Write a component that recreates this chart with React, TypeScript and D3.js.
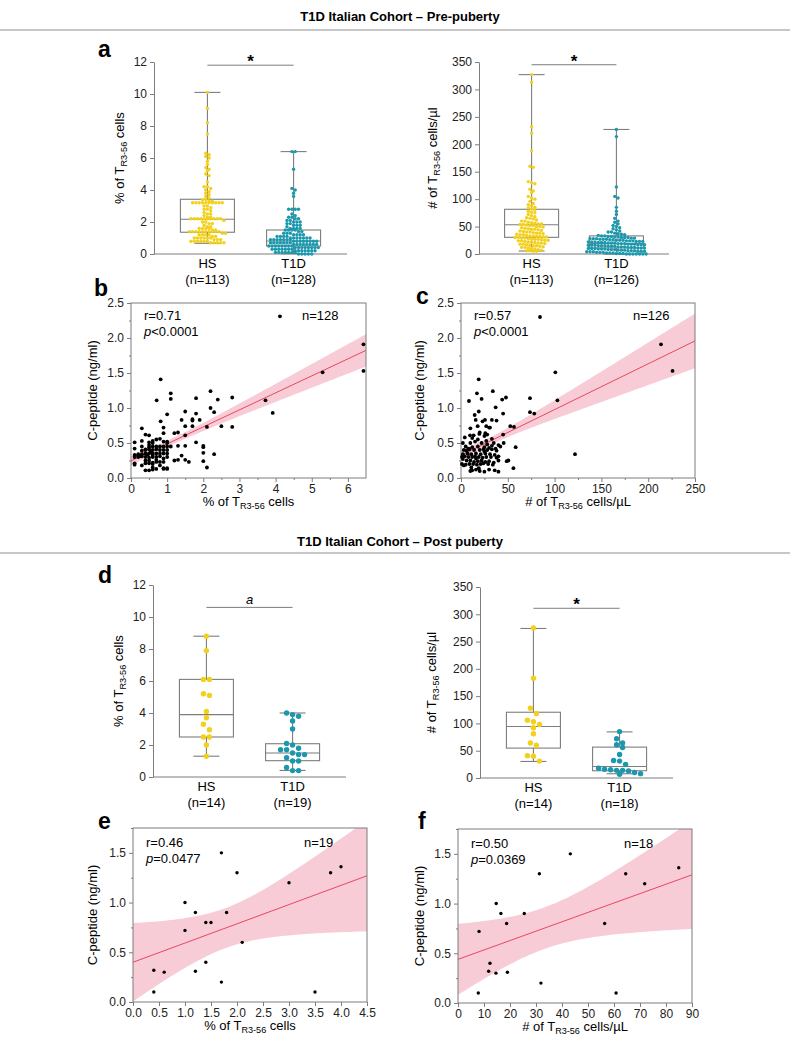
import React, { useEffect, useRef } from "react";
import * as d3 from "d3";

const FONT = "'Liberation Sans', Arial, Helvetica, sans-serif";
const GRAY = "#7d7d7d";
const YELLOW = "#f2d01c";
const TEAL = "#1b98ad";
const RED = "#e8485f";
const PINK = "#f7c3cf";

// categories
const groups = ["HS", "T1D"];
const preCounts = ["(n=113)", "(n=128)"];
const preAbsCounts = ["(n=113)", "(n=126)"];
const postCounts = ["(n=14)", "(n=19)"];
const postAbsCounts = ["(n=14)", "(n=18)"];

// pre-puberty, % of TR3-56 cells
const preHsPct = [
  10.1, 9.1, 8.2, 7.5, 6.3, 6.2, 6.1, 6.0, 5.8, 5.6, 5.4, 5.3, 5.2, 5.0, 4.9, 4.5, 4.2, 4.2, 4.1, 4.0, 3.9, 3.8, 3.7,
  3.6, 3.5, 3.4, 3.4, 3.3, 3.3, 3.2, 3.2, 3.2, 3.2, 3.2, 3.2, 3.2, 3.2, 3.2, 3.2,
  3.0, 3.0, 2.9, 2.8, 2.8, 2.7, 2.6, 2.5, 2.5, 2.4, 2.3, 2.3,
  2.2, 2.2, 2.2, 2.2, 2.2, 2.2, 2.2, 2.2, 2.2, 2.2,
  2.1, 2.0, 2.0, 1.9, 1.9, 1.8, 1.7, 1.7, 1.6, 1.6, 1.6, 1.6, 1.5, 1.5,
  1.4, 1.4, 1.4, 1.4, 1.4, 1.4, 1.4, 1.4, 1.4, 1.4,
  1.3, 1.3, 1.2, 1.2, 1.2, 1.2, 1.1, 1.1, 1.0, 1.0, 1.0, 1.0, 1.0, 1.0,
  0.9, 0.9, 0.9, 0.8, 0.8, 0.8, 0.8, 0.8, 0.8, 0.7, 0.7, 0.7, 0.7, 0.7,
];
const preT1dPct = [
  6.4, 6.4, 5.3, 4.1, 4.0, 3.8, 3.6, 2.8, 2.8, 2.8, 2.8, 2.5, 2.4, 2.3, 2.3, 2.2, 2.2, 2.1, 2.1, 2.0, 2.0, 2.0,
  1.9, 1.9, 1.8, 1.8, 1.8, 1.7, 1.6, 1.6, 1.6, 1.6, 1.5, 1.5, 1.5, 1.5, 1.4, 1.4, 1.3, 1.3, 1.3,
  1.2, 1.2, 1.2, 1.2, 1.1, 1.1, 1.1, 1.1,
  1.0, 1.0, 1.0, 1.0, 1.0, 1.0, 1.0,
  0.9, 0.9, 0.9, 0.9, 0.9, 0.9, 0.9,
  0.8, 0.8, 0.8, 0.8, 0.8, 0.8, 0.8, 0.8,
  0.7, 0.7, 0.7, 0.7, 0.7, 0.7, 0.7,
  0.6, 0.6, 0.6, 0.6, 0.6, 0.6, 0.6, 0.6,
  0.5, 0.5, 0.5, 0.5, 0.5, 0.5, 0.5, 0.5,
  0.4, 0.4, 0.4, 0.4, 0.4, 0.4, 0.4, 0.4,
  0.3, 0.3, 0.3, 0.3, 0.3, 0.3, 0.3,
  0.2, 0.2, 0.2, 0.2, 0.2, 0.2, 0.2,
  0.1, 0.1, 0.1, 0.1, 0.1, 0.1, 0.1,
  0.0, 0.0, 0.0, 0.0, 0.0,
];
// pre-puberty, # of TR3-56 cells/µl
const preHsAbs = [
  327, 313, 232, 220, 188, 160, 158, 132, 130, 128, 118, 115, 112, 105, 102, 100,
  96, 92, 90, 88, 85, 84, 82, 80, 78, 76, 75, 72, 70, 68, 66, 65, 64, 62, 60, 60,
  58, 57, 56, 55, 55, 54, 54, 53, 52, 52, 50, 50, 49, 48, 47, 46, 45, 45, 44, 43,
  42, 41, 40, 40, 39, 38, 38, 37, 36, 35, 35, 34, 33, 33, 32, 32, 31, 31, 30, 30,
  29, 29, 28, 28, 27, 27, 26, 25, 25, 24, 24, 23, 22, 22, 21, 20, 20, 19, 18, 18,
  17, 16, 15, 15, 14, 13, 12, 12, 11, 10, 9, 8, 7, 6, 6, 5, 5,
];
const preT1dAbs = [
  227, 214, 122, 105, 102, 85, 78, 72, 65, 60, 58, 55, 52, 50, 48, 46, 44, 42, 40, 40,
  38, 37, 36, 35, 34, 33, 33, 32, 32, 31, 31, 30, 30, 30, 29, 29, 28, 28, 28, 27,
  27, 27, 26, 26, 25, 25, 25, 24, 24, 24, 23, 23, 23, 22, 22, 22, 21, 21, 21, 20,
  20, 20, 19, 19, 19, 18, 18, 18, 17, 17, 17, 16, 16, 16, 15, 15, 15, 14, 14, 14,
  13, 13, 13, 12, 12, 12, 11, 11, 11, 10, 10, 10, 9, 9, 9, 8, 8, 8, 7, 7,
  7, 6, 6, 6, 5, 5, 5, 4, 4, 4, 3, 3, 3, 2, 2, 2, 1, 1, 1, 0, 0, 0, 0, 0, 0, 0,
];
// post-puberty
const postHsPct = [8.8, 7.9, 6.1, 6.1, 5.2, 5.1, 4.1, 3.7, 3.3, 2.95, 2.5, 2.5, 2.0, 1.3];
const postT1dPct = [4.0, 3.9, 3.8, 3.5, 3.0, 2.1, 2.0, 1.8, 1.7, 1.7, 1.5, 1.4, 1.4, 1.2, 1.0, 1.0, 0.6, 0.4, 0.4];
const postHsAbs = [275, 183, 128, 118, 106, 103, 98, 92, 81, 64, 60, 41, 40, 31];
const postT1dAbs = [85, 72, 64, 61, 56, 43, 32, 31, 25, 18, 16, 15, 14, 14, 13, 10, 8, 7];

// box statistics: [min, q1, median, q3, max]
const preHsPctBox = [0.67, 1.36, 2.17, 3.42, 10.1];
const preT1dPctBox = [0.02, 0.5, 0.81, 1.5, 6.4];
const preHsAbsBox = [5.5, 30.4, 53.4, 81.5, 327];
const preT1dAbsBox = [0, 11, 19, 33, 227];
const postHsPctBox = [1.3, 2.5, 3.9, 6.1, 8.8];
const postT1dPctBox = [0.41, 1.02, 1.5, 2.08, 4.0];
const postHsAbsBox = [30.3, 54.8, 94.3, 120.5, 274];
const postT1dAbsBox = [7.8, 13.3, 21.2, 56.6, 84.5];

// correlation panels: [x, C-peptide ng/ml]
const corrPrePct = [
  [4.12, 2.31], [6.43, 1.91], [6.43, 1.53], [5.3, 1.51], [3.72, 1.11], [3.92, 0.93],
  [0.82, 1.41], [0.71, 1.11], [1.1, 1.21], [1.1, 1.13], [1.0, 0.91], [0.82, 0.81], [0.9, 0.72], [0.9, 0.64],
  [2.2, 1.24], [2.4, 1.12], [1.8, 1.14], [2.8, 1.15], [2.2, 1.0], [2.3, 0.94], [1.5, 0.95], [1.8, 0.92], [1.4, 0.83], [1.7, 0.84],
  [1.7, 0.82], [1.9, 0.83], [1.5, 0.74], [1.7, 0.74], [2.1, 0.73], [2.5, 0.74], [2.8, 0.73], [0.3, 0.71], [1.2, 0.64], [1.3, 0.65],
  [1.5, 0.61], [1.8, 0.51], [2.0, 0.46], [2.0, 0.44], [2.0, 0.36], [2.0, 0.24], [2.1, 0.15], [2.3, 0.34], [1.3, 0.46], [1.5, 0.46],
  [1.4, 0.32], [1.2, 0.25], [1.3, 0.26], [1.5, 0.26], [1.6, 0.23], [1.0, 0.13], [0.9, 0.13],
  [0.1, 0.51], [0.1, 0.42], [0.1, 0.21], [0.1, 0.19], [0.1, 0.3], [0.2, 0.32], [0.25, 0.31], [0.3, 0.39], [0.3, 0.53], [0.4, 0.62],
  [0.5, 0.61], [0.4, 0.41], [0.5, 0.41], [0.6, 0.53], [0.5, 0.51], [0.5, 0.47],
  [0.6, 0.45], [0.7, 0.45], [0.8, 0.45], [0.9, 0.45], [1.0, 0.45], [1.1, 0.45], [0.5, 0.44],
  [0.4, 0.4], [0.6, 0.4], [0.7, 0.41], [0.8, 0.4], [0.9, 0.4], [1.0, 0.4], [0.55, 0.38],
  [0.1, 0.33], [0.2, 0.34], [0.3, 0.34], [0.4, 0.35], [0.5, 0.35], [0.6, 0.35], [0.7, 0.35], [0.8, 0.35], [0.9, 0.35], [1.0, 0.35],
  [0.45, 0.33], [0.6, 0.33], [0.4, 0.3], [0.5, 0.29], [0.7, 0.3], [0.6, 0.3],
  [0.4, 0.21], [0.5, 0.21], [0.6, 0.22], [0.7, 0.23], [0.8, 0.23], [0.9, 0.23], [0.6, 0.2],
  [0.4, 0.11], [0.5, 0.11], [0.6, 0.12], [0.7, 0.13], [0.9, 0.14], [1.0, 0.14],
  [0.6, 0.5], [1.0, 0.52], [1.0, 0.5], [0.7, 0.55],
  [0.2, 0.3], [0.3, 0.31], [0.8, 0.31], [0.9, 0.28], [1.0, 0.3], [0.4, 0.25], [0.5, 0.25], [0.7, 0.26], [0.8, 0.18], [0.3, 0.18],
  [0.6, 0.15], [0.9, 0.52], [0.8, 0.56], [0.3, 0.45],
];
const corrPreAbs = [
  [84.4, 2.3], [213.7, 1.91], [226, 1.53], [100.8, 1.51], [103, 1.11], [121.8, 0.34], [73.7, 1.14], [73.7, 0.94], [78.3, 0.92],
  [8.5, 1.1], [18.9, 1.41], [17, 1.21], [22, 1.13], [34, 1.24], [48, 1.15], [44, 1.12], [37, 1.01], [19, 0.95], [14.6, 0.9],
  [45, 0.92], [15.7, 0.83], [25.6, 0.83], [23, 0.81], [33, 0.83], [38, 0.82], [17.8, 0.74], [10, 0.71], [27, 0.74], [31, 0.72],
  [52.7, 0.74], [56.6, 0.73], [26, 0.64], [9.6, 0.61], [13.5, 0.61], [19.6, 0.63], [58.4, 0.44], [50.6, 0.25], [48.8, 0.24], [56, 0.14],
  [45.6, 0.5], [45, 0.62],
  [2, 0.5], [10, 0.5], [15, 0.52], [22, 0.5], [28, 0.48], [35, 0.5], [40, 0.47],
  [5, 0.45], [12, 0.44], [18, 0.45], [25, 0.44], [30, 0.43], [42, 0.45], [8, 0.42],
  [3, 0.4], [6, 0.39], [9, 0.41], [14, 0.4], [20, 0.4], [24, 0.41], [28, 0.4], [33, 0.41], [38, 0.39],
  [2, 0.34], [7, 0.35], [11, 0.34], [16, 0.35], [21, 0.34], [26, 0.35], [31, 0.34], [36, 0.33], [40, 0.31],
  [1, 0.3], [4, 0.31], [8, 0.3], [12, 0.3], [15, 0.31], [19, 0.3], [23, 0.29], [27, 0.3], [32, 0.3], [38, 0.29],
  [10, 0.25], [14, 0.23], [18, 0.24], [22, 0.25], [26, 0.23], [30, 0.24], [35, 0.22], [40, 0.25],
  [1, 0.2], [3, 0.18], [5, 0.19], [9, 0.2], [13, 0.2], [17, 0.19], [21, 0.2], [24, 0.21], [29, 0.2], [34, 0.19],
  [10, 0.1], [12, 0.11], [16, 0.12], [20, 0.1], [25, 0.09], [30, 0.12], [36, 0.11], [40, 0.09], [19, 0.14],
  [4, 0.58], [12, 0.57], [18, 0.55], [25, 0.6], [28, 0.62], [33, 0.56], [20, 0.65], [30, 0.72],
  [6, 0.25], [16, 0.28], [25, 0.38], [33, 0.46], [2, 0.27], [11, 0.15], [27, 0.53], [37, 0.42],
];
const corrPostPct = [
  [0.4, 0.1], [0.4, 0.32], [0.6, 0.3], [1.0, 1.0], [1.0, 0.72], [1.2, 0.9], [1.2, 0.31], [1.4, 0.8], [1.5, 0.8], [1.4, 0.4],
  [1.7, 1.5], [1.7, 0.2], [1.8, 0.9], [2.0, 1.3], [2.1, 0.6], [3.0, 1.2], [3.5, 0.1], [3.8, 1.3], [4.0, 1.36],
];
const corrPostAbs = [
  [7.8, 0.1], [8.1, 0.72], [12.3, 0.4], [11.8, 0.32], [14.7, 1.0], [14.6, 0.3], [16.5, 0.9], [18.7, 0.8], [19, 0.31],
  [25.5, 0.9], [31.3, 1.3], [31.9, 0.2], [43.2, 1.5], [56.4, 0.8], [60.8, 0.1], [64.5, 1.3], [71.8, 1.2], [84.9, 1.36],
];
const corrStats = [
  ["r=0.71", "<0.0001", "n=128"],
  ["r=0.57", "<0.0001", "n=126"],
  ["r=0.46", "=0.0477", "n=19"],
  ["r=0.50", "=0.0369", "n=18"],
];
// two-sided 95% t quantiles for n-2 df
const tCrit = [1.979, 1.979, 2.11, 2.12];

const subLabel = (sel: any, pre: string, sub: string, post: string, size = 13) => {
  sel.append("tspan").text(pre);
  sel.append("tspan").attr("font-size", size * 0.7).attr("dy", 3).text(sub);
  sel.append("tspan").attr("dy", -3).text(post);
};

// GraphPad-like column scatter: points in rows, each row centred
const columnDots = (values: number[], y: any, cx: number, step: number) => {
  const sorted = values.slice().sort((a, b) => b - a);
  const rows: number[][] = [];
  let start = -Infinity;
  sorted.forEach((v) => {
    const py = y(v);
    if (py - start >= step * 0.95 || rows.length === 0) {
      rows.push([]);
      start = py;
    }
    rows[rows.length - 1].push(py);
  });
  const out: { x: number; y: number }[] = [];
  rows.forEach((r) => r.forEach((py, i) => out.push({ x: cx + (i - (r.length - 1) / 2) * step, y: py })));
  return out;
};

const drawBoxPanel = (svg: any, p: any) => {
  const g = svg.append("g");
  const y = d3.scaleLinear().domain([0, p.yMax]).range([p.yBot, p.yTop]);
  const x = d3.scalePoint().domain(groups).range([p.x0, p.x1]).padding(0.62);

  const ax = g.append("g").attr("transform", `translate(${p.x0},0)`)
    .call(d3.axisLeft(y).tickValues(d3.range(0, p.yMax + 0.001, p.yStep)).tickSize(4).tickSizeOuter(0).tickPadding(3));
  ax.select(".domain").attr("stroke", GRAY);
  ax.selectAll(".tick line").attr("stroke", GRAY);
  ax.selectAll(".tick text").attr("font-family", FONT).attr("font-size", 12).attr("fill", "#222");

  g.append("line").attr("x1", p.x0).attr("x2", p.x1).attr("y1", p.yBot).attr("y2", p.yBot).attr("stroke", GRAY);

  const bw = 54;
  p.series.forEach((s: any, i: number) => {
    const cx = x(groups[i]) as number;
    const [mn, q1, md, q3, mx] = s.box;
    const bx = g.append("g").attr("stroke", GRAY).attr("stroke-width", 1.1).attr("fill", "none");
    bx.append("line").attr("x1", cx).attr("x2", cx).attr("y1", y(q3)).attr("y2", y(mx));
    bx.append("line").attr("x1", cx).attr("x2", cx).attr("y1", y(q1)).attr("y2", y(mn));
    [mn, mx].forEach((v) =>
      bx.append("line").attr("x1", cx - bw * 0.24).attr("x2", cx + bw * 0.24).attr("y1", y(v)).attr("y2", y(v)));
    bx.append("rect").attr("x", cx - bw / 2).attr("y", y(q3)).attr("width", bw).attr("height", y(q1) - y(q3));
    bx.append("line").attr("x1", cx - bw / 2).attr("x2", cx + bw / 2).attr("y1", y(md)).attr("y2", y(md));

    g.append("g").selectAll("circle")
      .data(columnDots(s.values, y, cx, p.step))
      .enter().append("circle")
      .attr("cx", (d: any) => d.x).attr("cy", (d: any) => d.y)
      .attr("r", p.r).attr("fill", s.color);

    g.append("text").attr("x", cx).attr("y", p.yBot + 14).attr("text-anchor", "middle")
      .attr("font-family", FONT).attr("font-size", 13).text(groups[i]);
    g.append("text").attr("x", cx).attr("y", p.yBot + 30).attr("text-anchor", "middle")
      .attr("font-family", FONT).attr("font-size", 13).text(p.counts[i]);
  });

  // significance bar
  const sy = y(p.sigV);
  g.append("line").attr("x1", x("HS")).attr("x2", x("T1D")).attr("y1", sy).attr("y2", sy).attr("stroke", GRAY);
  const st = g.append("text").attr("x", ((x("HS") as number) + (x("T1D") as number)) / 2).attr("text-anchor", "middle")
    .attr("font-family", FONT);
  if (p.sig === "*") st.attr("y", sy + 2).attr("font-size", 17).attr("font-weight", "bold").text("*");
  else st.attr("y", sy - 3).attr("font-size", 13).attr("font-style", "italic").text(p.sig);

  const lab = g.append("text")
    .attr("transform", `translate(${p.labelX},${(p.yTop + p.yBot) / 2}) rotate(-90)`)
    .attr("text-anchor", "middle").attr("font-family", FONT).attr("font-size", 13);
  subLabel(lab, p.label[0], "R3-56", p.label[1]);

  if (p.letter) {
    svg.append("text").attr("x", p.letter[1]).attr("y", p.letter[2]).attr("font-family", FONT)
      .attr("font-weight", "bold").attr("font-size", 23).text(p.letter[0]);
  }
};

const drawScatter = (svg: any, p: any, k: number) => {
  const pts: number[][] = p.data;
  const g = svg.append("g");
  const x = d3.scaleLinear().domain([0, p.xMax]).range([p.x0, p.x1]);
  const y = d3.scaleLinear().domain([0, p.yMax]).range([p.yBot, p.yTop]);

  // least squares fit with 95% confidence band
  const n = pts.length;
  const mx = d3.mean(pts, (d) => d[0]) as number;
  const my = d3.mean(pts, (d) => d[1]) as number;
  const sxx = d3.sum(pts, (d) => (d[0] - mx) ** 2);
  const sxy = d3.sum(pts, (d) => (d[0] - mx) * (d[1] - my));
  const b = sxy / sxx;
  const a = my - b * mx;
  const s = Math.sqrt(d3.sum(pts, (d) => (d[1] - a - b * d[0]) ** 2) / (n - 2));
  const ci = (xv: number) => tCrit[k] * s * Math.sqrt(1 / n + (xv - mx) ** 2 / sxx);
  const xs = d3.range(0, 81).map((i) => (p.xMax * i) / 80);

  const clipId = `clip${k}`;
  g.append("clipPath").attr("id", clipId).append("rect")
    .attr("x", p.x0).attr("y", p.yTop).attr("width", p.x1 - p.x0).attr("height", p.yBot - p.yTop);
  const pg = g.append("g").attr("clip-path", `url(#${clipId})`);
  pg.append("path").datum(xs)
    .attr("d", d3.area<number>().x((d) => x(d)).y0((d) => y(a + b * d - ci(d))).y1((d) => y(a + b * d + ci(d))))
    .attr("fill", PINK).attr("opacity", 0.85);
  pg.append("path").datum([0, p.xMax])
    .attr("d", d3.line<number>().x((d) => x(d)).y((d) => y(a + b * d)))
    .attr("stroke", RED).attr("stroke-width", 1).attr("fill", "none");

  g.append("rect").attr("x", p.x0).attr("y", p.yTop).attr("width", p.x1 - p.x0).attr("height", p.yBot - p.yTop)
    .attr("fill", "none").attr("stroke", GRAY);

  const style = (ax: any) => {
    ax.select(".domain").remove();
    ax.selectAll(".tick line").attr("stroke", GRAY);
    ax.selectAll(".tick text").attr("font-family", FONT).attr("font-size", 12).attr("fill", "#222");
  };
  g.append("g").attr("transform", `translate(0,${p.yBot})`)
    .call(d3.axisBottom(x).tickValues(p.xTicks).tickFormat(d3.format(p.xFmt)).tickSize(4).tickPadding(2)).call(style);
  g.append("g").attr("transform", `translate(0,${p.yBot})`)
    .call(d3.axisBottom(x).tickValues(p.xMinor).tickFormat(() => "").tickSize(2)).call(style);
  g.append("g").attr("transform", `translate(${p.x0},0)`)
    .call(d3.axisLeft(y).tickValues([0, 0.5, 1, 1.5, 2, 2.5].filter((v) => v <= p.yMax)).tickFormat(d3.format(".1f")).tickSize(4).tickPadding(3)).call(style);
  g.append("g").attr("transform", `translate(${p.x0},0)`)
    .call(d3.axisLeft(y).tickValues([0.25, 0.75, 1.25, 1.75, 2.25].filter((v) => v <= p.yMax)).tickFormat(() => "").tickSize(2)).call(style);

  g.append("g").selectAll("circle").data(pts).enter().append("circle")
    .attr("cx", (d: number[]) => x(d[0])).attr("cy", (d: number[]) => y(d[1])).attr("r", p.r).attr("fill", "#000");

  const [rTxt, pTxt, nTxt] = corrStats[k];
  g.append("text").attr("x", p.x0 + 13).attr("y", p.yTop + p.textDy).attr("font-family", FONT).attr("font-size", 13).text(rTxt);
  const pt = g.append("text").attr("x", p.x0 + 13).attr("y", p.yTop + p.textDy + 16).attr("font-family", FONT).attr("font-size", 13);
  pt.append("tspan").attr("font-style", "italic").text("p");
  pt.append("tspan").text(pTxt);
  g.append("text").attr("x", p.nX).attr("y", p.yTop + p.textDy).attr("font-family", FONT).attr("font-size", 13).text(nTxt);

  g.append("text")
    .attr("transform", `translate(${p.yLabelX},${(p.yTop + p.yBot) / 2}) rotate(-90)`)
    .attr("text-anchor", "middle").attr("dy", 4).attr("font-family", FONT).attr("font-size", 13).text("C-peptide (ng/ml)");
  const xl = g.append("text").attr("x", (p.x0 + p.x1) / 2).attr("y", p.yBot + 28)
    .attr("text-anchor", "middle").attr("font-family", FONT).attr("font-size", 13);
  subLabel(xl, p.xLabel[0], "R3-56", p.xLabel[1]);

  svg.append("text").attr("x", p.letter[1]).attr("y", p.letter[2]).attr("font-family", FONT)
    .attr("font-weight", "bold").attr("font-size", 23).text(p.letter[0]);
};

const App = () => {
  const svgRef = useRef<SVGSVGElement>(null);

  useEffect(() => {
    document.body.style.margin = "0";
    const svg = d3.select(svgRef.current);
    svg.selectAll("*").remove();

    // section headers
    const header = (txt: string, ty: number, ly: number) => {
      svg.append("text").attr("x", 400).attr("y", ty).attr("text-anchor", "middle").attr("font-family", FONT)
        .attr("font-weight", "bold").attr("font-size", 13).text(txt);
      svg.append("line").attr("x1", 0).attr("x2", 790).attr("y1", ly).attr("y2", ly)
        .attr("stroke", "#b5b5b5").attr("stroke-width", 1.5);
    };
    header("T1D Italian Cohort \u2013 Pre-puberty", 21, 30);
    header("T1D Italian Cohort \u2013 Post puberty", 546, 553);

    drawBoxPanel(svg, {
      x0: 154, x1: 347, yTop: 62, yBot: 254, yMax: 12, yStep: 2, r: 1.7, step: 3.3,
      series: [{ values: preHsPct, box: preHsPctBox, color: YELLOW }, { values: preT1dPct, box: preT1dPctBox, color: TEAL }],
      counts: preCounts, sigV: 11.8, sig: "*", labelX: 124, label: ["% of T", " cells"], letter: ["a", 98, 57],
    });
    drawBoxPanel(svg, {
      x0: 479, x1: 669, yTop: 62, yBot: 254, yMax: 350, yStep: 50, r: 1.7, step: 3.3,
      series: [{ values: preHsAbs, box: preHsAbsBox, color: YELLOW }, { values: preT1dAbs, box: preT1dAbsBox, color: TEAL }],
      counts: preAbsCounts, sigV: 345, sig: "*", labelX: 437, label: ["#  of T", " cells/\u00b5l"], letter: null,
    });
    drawBoxPanel(svg, {
      x0: 153, x1: 346, yTop: 585, yBot: 777, yMax: 12, yStep: 2, r: 2.7, step: 6,
      series: [{ values: postHsPct, box: postHsPctBox, color: YELLOW }, { values: postT1dPct, box: postT1dPctBox, color: TEAL }],
      counts: postCounts, sigV: 10.6, sig: "a", labelX: 123, label: ["% of T", " cells"], letter: ["d", 98, 583],
    });
    drawBoxPanel(svg, {
      x0: 480, x1: 673, yTop: 587, yBot: 778, yMax: 350, yStep: 50, r: 2.7, step: 6,
      series: [{ values: postHsAbs, box: postHsAbsBox, color: YELLOW }, { values: postT1dAbs, box: postT1dAbsBox, color: TEAL }],
      counts: postAbsCounts, sigV: 311, sig: "*", labelX: 436, label: ["#  of T", " cells/\u00b5l"], letter: null,
    });

    drawScatter(svg, {
      data: corrPrePct, x0: 131, x1: 366, yTop: 303, yBot: 478, xMax: 6.5, yMax: 2.5, r: 1.9,
      xTicks: [0, 1, 2, 3, 4, 5, 6], xMinor: [0.5, 1.5, 2.5, 3.5, 4.5, 5.5], xFmt: "d",
      textDy: 17, nX: 302, yLabelX: 93, xLabel: ["% of  T", " cells"], letter: ["b", 94, 296],
    }, 0);
    drawScatter(svg, {
      data: corrPreAbs, x0: 461, x1: 695, yTop: 303, yBot: 478, xMax: 250, yMax: 2.5, r: 1.9,
      xTicks: [0, 50, 100, 150, 200, 250], xMinor: [25, 75, 125, 175, 225], xFmt: "d",
      textDy: 17, nX: 633, yLabelX: 420, xLabel: ["# of T", " cells/\u00b5L"], letter: ["c", 416, 304],
    }, 1);
    drawScatter(svg, {
      data: corrPostPct, x0: 133, x1: 367, yTop: 828, yBot: 1002, xMax: 4.5, yMax: 1.75, r: 1.7,
      xTicks: [0, 0.5, 1, 1.5, 2, 2.5, 3, 3.5, 4, 4.5], xMinor: [], xFmt: ".1f",
      textDy: 19, nX: 304, yLabelX: 93, xLabel: ["% of  T", " cells"], letter: ["e", 98, 829],
    }, 2);
    drawScatter(svg, {
      data: corrPostAbs, x0: 458, x1: 692, yTop: 829, yBot: 1003, xMax: 90, yMax: 1.75, r: 1.7,
      xTicks: [0, 10, 20, 30, 40, 50, 60, 70, 80, 90], xMinor: [], xFmt: "d",
      textDy: 19, nX: 624, yLabelX: 420, xLabel: ["# of T", " cells/\u00b5L"], letter: ["f", 418, 829],
    }, 3);
  }, []);

  return <svg ref={svgRef} width={800} height={1053} style={{ display: "block", background: "#fff" }} />;
};

export default App;
